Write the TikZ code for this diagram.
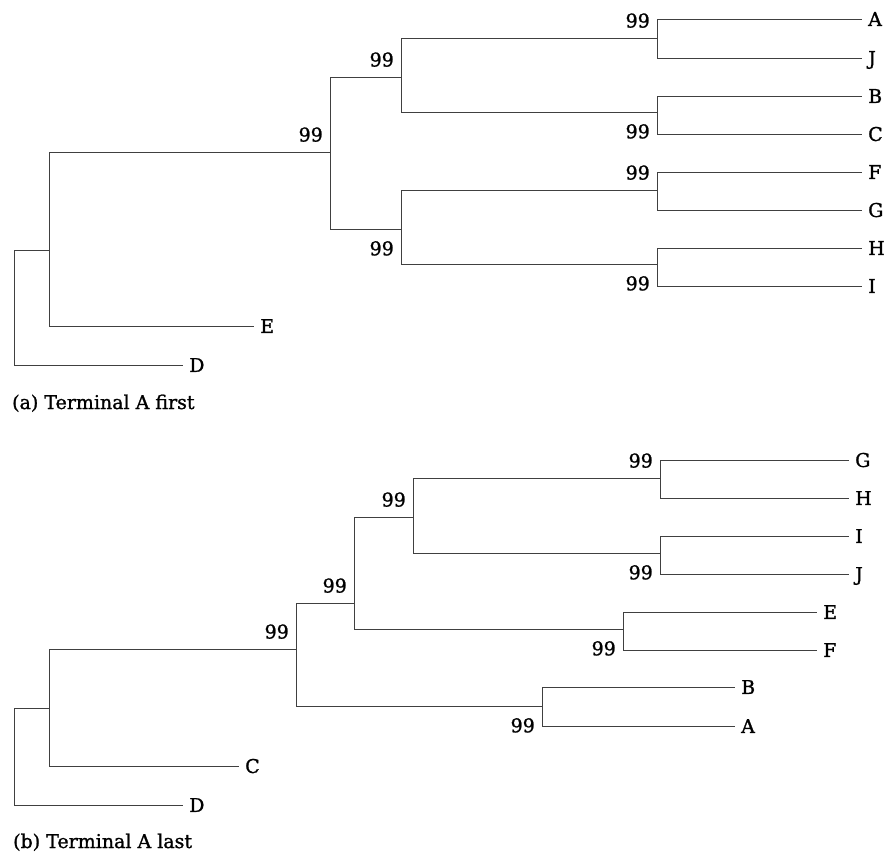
\documentclass[tikz,border=0pt]{standalone}
\usepackage{fontspec}
\setmainfont{DejaVu Serif}[UprightFeatures={FakeBold=1.2}]
\begin{document}
\begin{tikzpicture}[x=1pt, y=-1pt, font=\fontsize{19}{22}\selectfont,
	branch/.style={line width=1pt, black!75},
	taxon/.style={anchor=west, inner xsep=6pt, inner ysep=0pt, text height=13.9pt, text depth=0pt},
	supup/.style={anchor=south east, inner sep=0pt, xshift=-7pt, yshift=10pt},
	supdown/.style={anchor=north east, inner sep=0pt, xshift=-7pt, yshift=-12pt}]
	\useasboundingbox (0,0) rectangle (885,852);
	
	% Tree (a): inner nodes
	\coordinate (ra) at (14,250);
	\coordinate (a1) at (49,250);
	\coordinate (a2) at (330,152);
	\coordinate (a3) at (401,77);
	\coordinate (a4) at (401,229);
	\coordinate (a5) at (657,38);
	\coordinate (a6) at (657,112);
	\coordinate (a7) at (657,190);
	\coordinate (a8) at (657,264);
	% Taxa
	\foreach \n/\x/\y in {A/862/19, J/862/58, B/862/96, C/862/134, F/862/172, G/862/210, H/862/248, I/862/286, E/254/326, D/183/365} {
		\node[taxon] (a\n) at (\x,\y) {\n};
	}
	% Branches
	\foreach \p/\c in {ra/a1, a1/a2, a2/a3, a2/a4, a3/a5, a3/a6, a4/a7, a4/a8} {
		\draw[branch] (\p) |- (\c);
	}
	\foreach \p/\c in {ra/aD, a1/aE, a5/aA, a5/aJ, a6/aB, a6/aC, a7/aF, a7/aG, a8/aH, a8/aI} {
		\draw[branch] (\p) |- (\c.west);
	}
	% Support values
	\foreach \c in {a2, a3, a5, a7} {
		\node[supup] (s\c) at (\c) {99};
	}
	\foreach \c in {a4, a6, a8} {
		\node[supdown] (s\c) at (\c) {99};
	}
	\node[anchor=base west, inner sep=0pt] (capa) at (12,409) {(a) Terminal A first};
	
	% Tree (b): inner nodes
	\coordinate (rb) at (14,708);
	\coordinate (b1) at (49,708);
	\coordinate (b2) at (296,649);
	\coordinate (b3) at (354,603);
	\coordinate (b4) at (413,517);
	\coordinate (b5) at (660,478);
	\coordinate (b6) at (660,553);
	\coordinate (b7) at (623,629);
	\coordinate (b8) at (542,706);
	% Taxa
	\foreach \n/\x/\y in {G/849/460, H/849/498, I/849/536, J/849/574, E/817/612, F/817/650, B/735/687, A/735/726, C/239/766, D/183/805} {
		\node[taxon] (b\n) at (\x,\y) {\n};
	}
	% Branches
	\foreach \p/\c in {rb/b1, b1/b2, b2/b3, b2/b8, b3/b4, b3/b7, b4/b5, b4/b6} {
		\draw[branch] (\p) |- (\c);
	}
	\foreach \p/\c in {rb/bD, b1/bC, b5/bG, b5/bH, b6/bI, b6/bJ, b7/bE, b7/bF, b8/bB, b8/bA} {
		\draw[branch] (\p) |- (\c.west);
	}
	% Support values
	\foreach \c in {b2, b3, b4, b5} {
		\node[supup] (s\c) at (\c) {99};
	}
	\foreach \c in {b6, b7, b8} {
		\node[supdown] (s\c) at (\c) {99};
	}
	\node[anchor=base west, inner sep=0pt] (capb) at (13,848) {(b) Terminal A last};
	
\end{tikzpicture}
\end{document}
